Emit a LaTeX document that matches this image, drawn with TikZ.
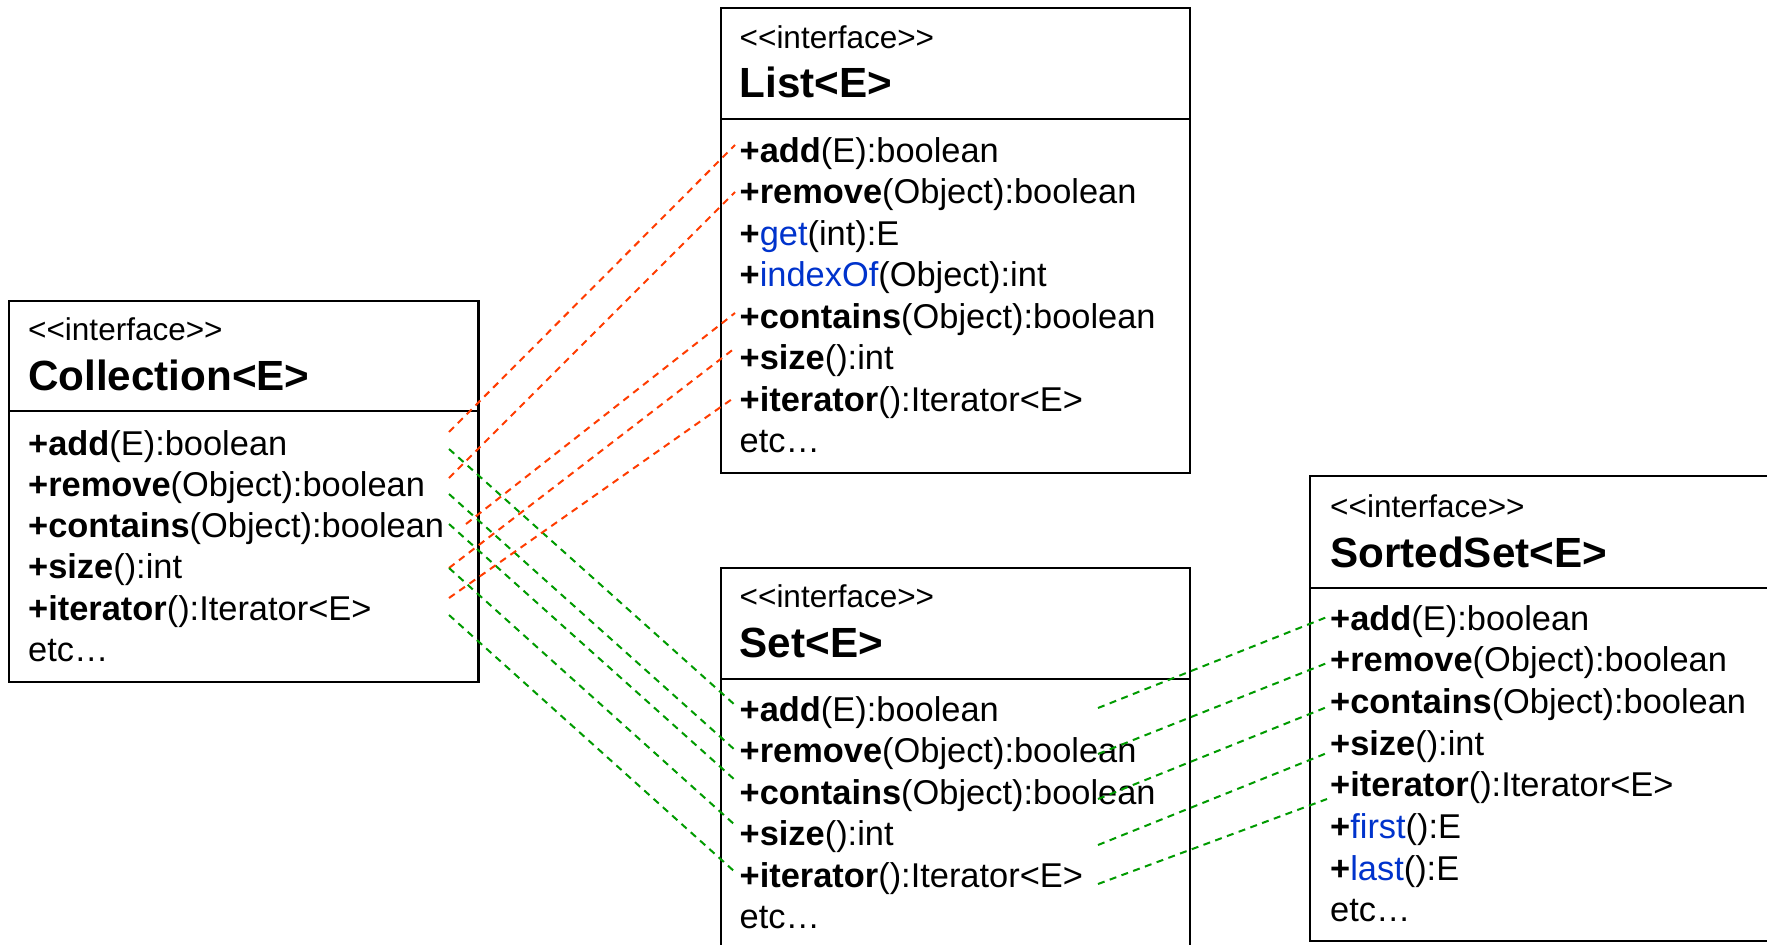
\documentclass[tikz,border=0pt]{standalone}
\usepackage{fontspec}
\setmainfont{Liberation Sans}

\definecolor{linkred}{RGB}{255,60,0}
\definecolor{linkgreen}{RGB}{0,155,0}
\definecolor{opblue}{RGB}{0,51,204}

\newcommand\umlrowfont{\fontsize{34.4pt}{41.5pt}\selectfont}
\newcommand\umltitlefont{\fontsize{42.2pt}{50pt}\selectfont\bfseries}
\newcommand\umlstereofont{\fontsize{31.5pt}{38pt}\selectfont}
% kerns keep the double angle brackets from turning into guillemets
\newcommand\umlstereo{<\kern0pt<interface>\kern0pt>}
% inherited operation (bold name) and new operation (blue name)
\newcommand\op[3]{\textbf{+#1}(#2):#3}
\newcommand\newop[3]{\textbf{+}\textcolor{opblue}{#1}(#2):#3}

\begin{document}
\begin{tikzpicture}[x=1pt,y=-1pt,
  box/.style={draw=black, line width=2.2pt, fill=white, anchor=north west,
    inner sep=0pt, outer sep=0pt},
  divider/.style={line width=2.8pt},
  stereo/.style={anchor=base west, inner sep=0pt, font=\umlstereofont},
  title/.style={anchor=base west, inner sep=0pt, font=\umltitlefont},
  row/.style={anchor=base west, inner sep=0pt, font=\umlrowfont},
  redlink/.style={draw=linkred, line width=2pt, dash pattern=on 7pt off 5.5pt},
  greenlink/.style={draw=linkgreen, line width=2pt, dash pattern=on 7pt off 5.5pt},
]
\path[use as bounding box] (0,0) rectangle (1767,945);
\clip (0,0) rectangle (1767,945);
\fill[white] (0,0) rectangle (1767,945);

% ---------- Collection<E> ----------
\node[box, minimum width=469.5pt, minimum height=381.3pt] (coll) at (9,300.7) {};
\draw[divider] ([yshift=-110.3pt]coll.north west) -- ([yshift=-110.3pt]coll.north east);
\node[stereo] (c-st) at (28,340) {\umlstereo};
\node[title]  (c-ti) at (28,390) {Collection<E>};
\node[row] (c-add) at (28,455.0) {\op{add}{E}{boolean}};
\node[row] (c-rem) at (28,496.3) {\op{remove}{Object}{boolean}};
\node[row] (c-con) at (28,537.6) {\op{contains}{Object}{boolean}};
\node[row] (c-siz) at (28,578.9) {\op{size}{}{int}};
\node[row] (c-ite) at (28,620.2) {\op{iterator}{}{Iterator<E>}};
\node[row] (c-etc) at (28,661.5) {etc…};

% ---------- List<E> ----------
\node[box, minimum width=469pt, minimum height=464.7pt] (list) at (721,8.3) {};
\draw[divider] ([yshift=-110.7pt]list.north west) -- ([yshift=-110.7pt]list.north east);
\node[stereo] (l-st) at (739.5,48) {\umlstereo};
\node[title]  (l-ti) at (739.5,97) {List<E>};
\node[row] (l-add) at (739.5,162.0) {\op{add}{E}{boolean}};
\node[row] (l-rem) at (739.5,203.5) {\op{remove}{Object}{boolean}};
\node[row] (l-get) at (739.5,245.0) {\newop{get}{int}{E}};
\node[row] (l-idx) at (739.5,286.5) {\newop{indexOf}{Object}{int}};
\node[row] (l-con) at (739.5,328.0) {\op{contains}{Object}{boolean}};
\node[row] (l-siz) at (739.5,369.5) {\op{size}{}{int}};
\node[row] (l-ite) at (739.5,411.0) {\op{iterator}{}{Iterator<E>}};
\node[row] (l-etc) at (739.5,452.5) {etc…};

% ---------- Set<E> ----------
\node[box, minimum width=469pt, minimum height=420pt] (set) at (721,567.7) {};
\draw[divider] ([yshift=-111.3pt]set.north west) -- ([yshift=-111.3pt]set.north east);
\node[stereo] (s-st) at (739.5,607) {\umlstereo};
\node[title]  (s-ti) at (739.5,657) {Set<E>};
\node[row] (s-add) at (739.5,721.0) {\op{add}{E}{boolean}};
\node[row] (s-rem) at (739.5,762.5) {\op{remove}{Object}{boolean}};
\node[row] (s-con) at (739.5,804.0) {\op{contains}{Object}{boolean}};
\node[row] (s-siz) at (739.5,845.5) {\op{size}{}{int}};
\node[row] (s-ite) at (739.5,887.0) {\op{iterator}{}{Iterator<E>}};
\node[row] (s-etc) at (739.5,928.5) {etc…};

% ---------- SortedSet<E> ----------
\node[box, minimum width=500pt, minimum height=465pt] (sset) at (1310,476) {};
\draw[divider] ([yshift=-112pt]sset.north west) -- ([yshift=-112pt]sset.north east);
\node[stereo] (t-st) at (1330,517) {\umlstereo};
\node[title]  (t-ti) at (1330,567) {SortedSet<E>};
\node[row] (t-add) at (1330,630.0) {\op{add}{E}{boolean}};
\node[row] (t-rem) at (1330,671.7) {\op{remove}{Object}{boolean}};
\node[row] (t-con) at (1330,713.4) {\op{contains}{Object}{boolean}};
\node[row] (t-siz) at (1330,755.1) {\op{size}{}{int}};
\node[row] (t-ite) at (1330,796.8) {\op{iterator}{}{Iterator<E>}};
\node[row] (t-fir) at (1330,838.5) {\newop{first}{}{E}};
\node[row] (t-las) at (1330,880.2) {\newop{last}{}{E}};
\node[row] (t-etc) at (1330,921.9) {etc…};

% ---------- link end points ----------
% Collection -> List
\coordinate (cl-add-a) at (449,432);   \coordinate (cl-add-b) at (735,145);
\coordinate (cl-rem-a) at (449,478);   \coordinate (cl-rem-b) at (735,192);
\coordinate (cl-con-a) at (466,524);   \coordinate (cl-con-b) at (735,313);
\coordinate (cl-siz-a) at (449,568);   \coordinate (cl-siz-b) at (735,348);
\coordinate (cl-ite-a) at (449,598);   \coordinate (cl-ite-b) at (735,397);
% Collection -> Set
\coordinate (cs-add-a) at (449,449);   \coordinate (cs-add-b) at (735,705);
\coordinate (cs-rem-a) at (449,494);   \coordinate (cs-rem-b) at (735,750);
\coordinate (cs-con-a) at (449,524);   \coordinate (cs-con-b) at (735,780);
\coordinate (cs-siz-a) at (449,568);   \coordinate (cs-siz-b) at (735,825);
\coordinate (cs-ite-a) at (449,615);   \coordinate (cs-ite-b) at (735,872);
% Set -> SortedSet
\coordinate (st-add-a) at (1098,708);  \coordinate (st-add-b) at (1327,617);
\coordinate (st-rem-a) at (1098,754);  \coordinate (st-rem-b) at (1327,663);
\coordinate (st-con-a) at (1098,799);  \coordinate (st-con-b) at (1327,707);
\coordinate (st-siz-a) at (1098,845);  \coordinate (st-siz-b) at (1327,753);
\coordinate (st-ite-a) at (1098,884);  \coordinate (st-ite-b) at (1327,799);

% ---------- links ----------
\foreach \m in {add,rem,con,siz,ite}{
  \draw[redlink]   (cl-\m-a) -- (cl-\m-b);
  \draw[greenlink] (cs-\m-a) -- (cs-\m-b);
  \draw[greenlink] (st-\m-a) -- (st-\m-b);
}
\end{tikzpicture}
\end{document}
